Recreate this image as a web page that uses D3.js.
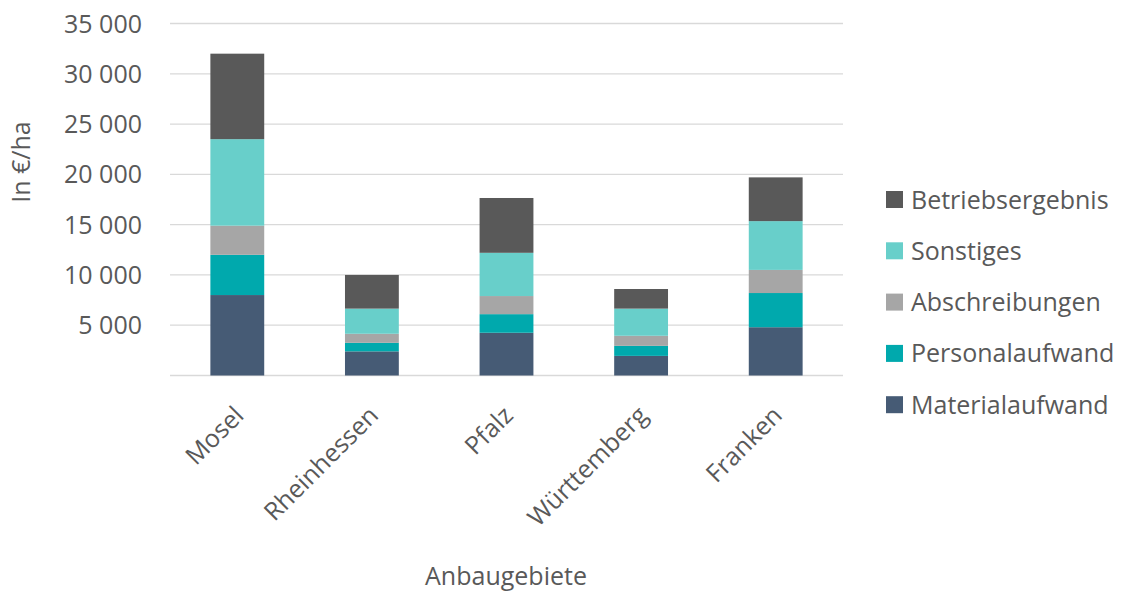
<!DOCTYPE html>
<html>
<head>
<meta charset="utf-8">
<script src="https://cdn.jsdelivr.net/npm/d3@7"></script>
<style>
  html, body { margin: 0; padding: 0; background: #fff; }
  svg { display: block; font-family: "Open Sans", "Noto Sans", sans-serif; }
</style>
</head>
<body>
<svg id="chart" width="1123" height="594"></svg>
<script>
const categories = ["Mosel", "Rheinhessen", "Pfalz", "Württemberg", "Franken"];
const seriesNames = ["Materialaufwand", "Personalaufwand", "Abschreibungen", "Sonstiges", "Betriebsergebnis"];
const materialaufwand = [8000, 2400, 4250, 1950, 4800];
const personalaufwand = [4000, 850, 1850, 1000, 3400];
const abschreibungen = [2900, 900, 1800, 1000, 2300];
const sonstiges = [8600, 2500, 4300, 2700, 4850];
const betriebsergebnis = [8500, 3350, 5450, 1950, 4350];
const yTicks = [0, 5000, 10000, 15000, 20000, 25000, 30000, 35000];
const colors = ["#465b75", "#00a9ad", "#a6a6a6", "#68cfca", "#595959"];

const seriesValues = [materialaufwand, personalaufwand, abschreibungen, sonstiges, betriebsergebnis];
const table = categories.map((c, i) => {
  const row = { cat: c };
  seriesNames.forEach((s, j) => row[s] = seriesValues[j][i]);
  return row;
});

const svg = d3.select("#chart");
const textColor = "#595959";
const fs = "25px";

const x = d3.scaleBand().domain(categories).range([170, 843]).paddingInner(0.6).paddingOuter(0.3);
const y = d3.scaleLinear().domain([0, 35000]).range([375.5, 23.5]);

// gridlines
svg.append("g").selectAll("line").data(yTicks).join("line")
  .attr("x1", 170).attr("x2", 843)
  .attr("y1", d => y(d)).attr("y2", d => y(d))
  .attr("stroke", "#d9d9d9").attr("stroke-width", 1.3);

// y tick labels
const fmt = d => d === 0 ? "" : d3.format(",")(d).replace(/,/g, " ");
svg.append("g").selectAll("text").data(yTicks).join("text")
  .attr("x", 142).attr("y", d => y(d)).attr("dy", "0.36em")
  .attr("text-anchor", "end").attr("fill", textColor)
  .style("font-size", fs).text(fmt);

// bars
const stack = d3.stack().keys(seriesNames)(table);
svg.append("g").selectAll("g").data(stack).join("g")
  .attr("fill", (d, i) => colors[i])
  .selectAll("rect").data(d => d).join("rect")
  .attr("x", d => x(d.data.cat))
  .attr("width", x.bandwidth())
  .attr("y", d => y(d[1]))
  .attr("height", d => y(d[0]) - y(d[1]));

// x labels
svg.append("g").selectAll("text").data(categories).join("text")
  .attr("transform", d => `translate(${x(d) + x.bandwidth() / 2 + 8},417) rotate(-45)`)
  .attr("text-anchor", "end").attr("fill", textColor)
  .style("font-size", fs).text(d => d);

// axis titles
svg.append("text").attr("x", 506).attr("y", 585).attr("text-anchor", "middle")
  .attr("fill", textColor).style("font-size", fs).text("Anbaugebiete");
svg.append("text").attr("transform", "translate(30,162) rotate(-90)").attr("text-anchor", "middle")
  .attr("fill", textColor).style("font-size", fs).text("In €/ha");

// legend
const legendOrder = seriesNames.map((s, i) => ({ s, c: colors[i] })).reverse();
const lg = svg.append("g").selectAll("g").data(legendOrder).join("g")
  .attr("transform", (d, i) => `translate(886,${199.5 + i * 51.3})`);
lg.append("rect").attr("x", 0).attr("y", -8.5).attr("width", 17).attr("height", 17).attr("fill", d => d.c);
lg.append("text").attr("x", 25).attr("y", 0).attr("dy", "0.36em").attr("fill", textColor)
  .style("font-size", fs).text(d => d.s);
</script>
</body>
</html>
